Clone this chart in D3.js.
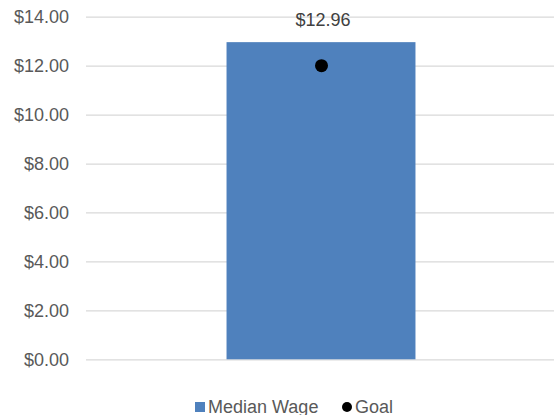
<!DOCTYPE html>
<html><head><meta charset="utf-8">
<script src="https://cdn.jsdelivr.net/npm/d3@7"></script>
<style>body{margin:0;background:#fff}svg{display:block}text{font-family:"Liberation Sans",Arial,sans-serif}</style>
</head><body><svg id="c" width="554" height="415"></svg>
<script>
const categories = ["Median Wage"];
const medianWage = [12.96];
const goal = [12];
const yTicks = [0, 2, 4, 6, 8, 10, 12, 14];
const legendLabels = ["Median Wage", "Goal"];

const svg = d3.select("#c");
const fmt = d => "$" + d.toFixed(2);
const y = d3.scaleLinear().domain([0, 14]).range([359.3, 16.7]);
const x = d3.scaleBand().domain(categories).range([86, 556]).paddingInner(0.598).paddingOuter(0.299);

const yAxis = svg.append("g").attr("transform", "translate(86,0)")
  .call(d3.axisLeft(y).tickValues(yTicks).tickFormat(fmt).tickSize(-470).tickPadding(17));
yAxis.select(".domain").remove();
yAxis.selectAll("line").attr("stroke", "#d9d9d9").attr("stroke-width", 1.3);
yAxis.selectAll("text").attr("fill", "#595959").attr("font-size", "18px");

svg.append("g").selectAll("rect").data(categories).join("rect")
  .attr("x", d => x(d)).attr("width", x.bandwidth())
  .attr("y", (d, i) => y(medianWage[i])).attr("height", (d, i) => y(0) - y(medianWage[i]))
  .attr("fill", "#4f81bd");

svg.append("g").selectAll("text").data(categories).join("text")
  .attr("x", d => x(d) + x.bandwidth() / 2 + 2).attr("y", (d, i) => y(medianWage[i]) - 16)
  .attr("text-anchor", "middle").attr("fill", "#404040").attr("font-size", "18px")
  .text((d, i) => fmt(medianWage[i]));

svg.append("g").selectAll("circle").data(categories).join("circle")
  .attr("cx", d => x(d) + x.bandwidth() / 2 + 0.5).attr("cy", (d, i) => y(goal[i]))
  .attr("r", 6.5).attr("fill", "#000");

// legend
const lg = svg.append("g");
lg.append("rect").attr("x", 195).attr("y", 402).attr("width", 10).attr("height", 10).attr("fill", "#4f81bd");
lg.append("text").attr("x", 208).attr("y", 412.5).attr("fill", "#595959").attr("font-size", "18px").text(legendLabels[0]);
lg.append("circle").attr("cx", 347).attr("cy", 407).attr("r", 5).attr("fill", "#000");
lg.append("text").attr("x", 355).attr("y", 412.5).attr("fill", "#595959").attr("font-size", "18px").text(legendLabels[1]);
</script></body></html>
